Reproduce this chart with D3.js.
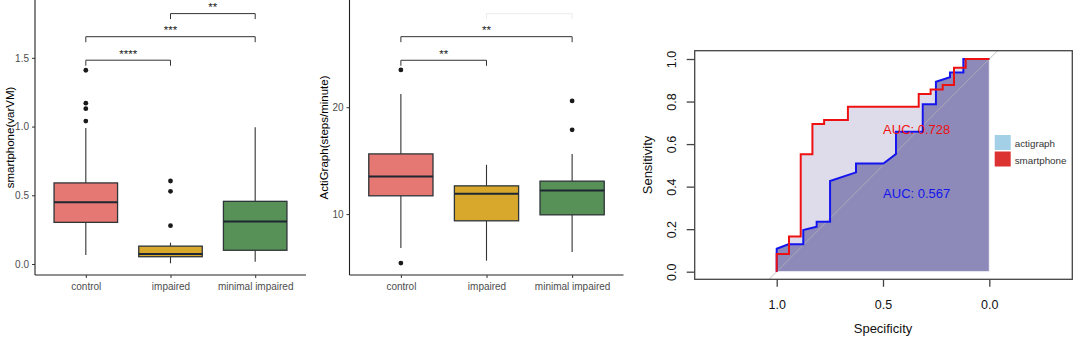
<!DOCTYPE html>
<html>
<head>
<meta charset="utf-8">
<script src="https://cdn.jsdelivr.net/npm/d3@7"></script>
<style>
  html, body { margin: 0; padding: 0; background: #fff; }
  svg { display: block; font-family: "Liberation Sans", Arial, sans-serif; }
</style>
</head>
<body>
<svg id="chart" width="1074" height="337"></svg>
<script>
// ---------------- DATA ----------------
const categories = ["control", "impaired", "minimal impaired"];
const boxColors = ["#e57872", "#d8a82d", "#579157"];

// Panel A: smartphone(varVM)
const smartQ1  = [0.303, 0.053, 0.100];
const smartMed = [0.450, 0.073, 0.310];
const smartQ3  = [0.590, 0.130, 0.456];
const smartLo  = [0.065, 0.005, 0.017];
const smartHi  = [0.990, 0.155, 0.995];
const smartOutliers = [[1.41, 1.17, 1.13, 1.04], [0.604, 0.529, 0.279], []];
const smartTicks = [0.0, 0.5, 1.0, 1.5];
const smartBrackets = [
  { from: 0, to: 1, y: 1.483, label: "****" },
  { from: 0, to: 2, y: 1.654, label: "***" },
  { from: 1, to: 2, y: 1.822, label: "**" }
];

// Panel B: ActiGraph(steps/minute)
const actiQ1  = [11.71, 9.37, 9.93];
const actiMed = [13.51, 11.90, 12.21];
const actiQ3  = [15.63, 12.64, 13.08];
const actiLo  = [6.82, 5.64, 6.45];
const actiHi  = [21.24, 14.61, 15.61];
const actiOutliers = [[23.49, 5.42], [], [20.59, 17.88]];
const actiTicks = [10, 20];
const actiBrackets = [
  { from: 0, to: 1, y: 24.39, label: "**" },
  { from: 0, to: 2, y: 26.60, label: "**" },
  { from: 1, to: 2, y: 28.75, label: "", faint: true }
];

// Panel C: ROC curves (specificity, sensitivity)
const smartRocSpec = [1, 1, 0.942, 0.942, 0.887, 0.887, 0.832, 0.832, 0.777, 0.777, 0.665, 0.665, 0.332, 0.332, 0.276, 0.276, 0.219, 0.219, 0.166, 0.166, 0.111, 0.111, 0];
const smartRocSens = [0, 0.083, 0.083, 0.165, 0.165, 0.552, 0.552, 0.694, 0.694, 0.713, 0.713, 0.776, 0.776, 0.835, 0.835, 0.857, 0.857, 0.878, 0.878, 0.959, 0.959, 1, 1];
const actiRocSpec = [1, 1, 0.945, 0.875, 0.875, 0.812, 0.812, 0.749, 0.749, 0.627, 0.627, 0.498, 0.439, 0.439, 0.313, 0.313, 0.251, 0.251, 0.185, 0.185, 0.122, 0.122, 0];
const actiRocSens = [0, 0.108, 0.129, 0.129, 0.196, 0.212, 0.235, 0.235, 0.426, 0.467, 0.509, 0.509, 0.553, 0.658, 0.658, 0.787, 0.787, 0.893, 0.914, 0.936, 0.936, 1, 1];
const rocXTicks = [1.0, 0.5, 0.0];
const rocYTicks = [0.0, 0.2, 0.4, 0.6, 0.8, 1.0];
const aucLabels = ["AUC: 0.728", "AUC: 0.567"];
const aucY = [0.67, 0.37];
const legendLabels = ["actigraph", "smartphone"];
const legendColors = ["#a3d0e6", "#dc3232"];

// ---------------- DRAW ----------------
const svg = d3.select("#chart");

function boxPanel(opt) {
  const g = svg.append("g");
  const x = d3.scalePoint().domain(categories).range([opt.x0, opt.x1]).padding(0.6);
  const y = d3.scaleLinear().domain(opt.yDomain).range([275, 0]);
  const bw = x.step() * 0.75;

  const yAxis = d3.axisLeft(y).tickValues(opt.ticks).tickFormat(opt.fmt).tickSize(3).tickPadding(3);
  const ya = g.append("g").attr("transform", `translate(${opt.x0},0)`).call(yAxis);
  const xAxis = d3.axisBottom(x).tickSize(3).tickPadding(5);
  const xa = g.append("g").attr("transform", `translate(0,275)`).call(xAxis);
  [ya, xa].forEach(a => {
    a.select(".domain").attr("stroke", "#222").attr("stroke-width", 1.1);
    a.selectAll(".tick line").attr("stroke", "#333").attr("stroke-width", 1);
    a.selectAll(".tick text").attr("fill", "#4d4d4d").attr("font-size", 10)
      .attr("font-family", "Liberation Sans, Arial, sans-serif");
  });
  xa.select(".domain").attr("d", `M${opt.x0},0H${opt.x1}`);
  ya.select(".domain").attr("d", `M0,275V0`);

  g.append("text")
    .attr("transform", `translate(${opt.titleX},${275 / 2}) rotate(-90)`)
    .attr("text-anchor", "middle").attr("dominant-baseline", "central")
    .attr("font-size", 11.5).attr("fill", "#000").text(opt.title);

  categories.forEach((c, i) => {
    const cx = x(c);
    g.append("line").attr("x1", cx).attr("x2", cx).attr("y1", y(opt.hi[i])).attr("y2", y(opt.q3[i]))
      .attr("stroke", "#333").attr("stroke-width", 1.1);
    g.append("line").attr("x1", cx).attr("x2", cx).attr("y1", y(opt.q1[i])).attr("y2", y(opt.lo[i]))
      .attr("stroke", "#333").attr("stroke-width", 1.1);
    g.append("rect").attr("x", cx - bw / 2).attr("width", bw)
      .attr("y", y(opt.q3[i])).attr("height", y(opt.q1[i]) - y(opt.q3[i]))
      .attr("fill", boxColors[i]).attr("stroke", "#2e3438").attr("stroke-width", 1.3);
    g.append("line").attr("x1", cx - bw / 2).attr("x2", cx + bw / 2)
      .attr("y1", y(opt.med[i])).attr("y2", y(opt.med[i]))
      .attr("stroke", "#1d2633").attr("stroke-width", 2);
    opt.out[i].forEach(v => {
      g.append("circle").attr("cx", cx).attr("cy", y(v)).attr("r", 2.4).attr("fill", "#1a1a1a");
    });
  });

  opt.brackets.forEach(b => {
    const xa_ = x(categories[b.from]), xb_ = x(categories[b.to]), yy = y(b.y);
    const col = b.faint ? "#ececec" : "#333";
    g.append("path")
      .attr("d", `M${xa_},${yy + 5.5}V${yy}H${xb_}V${yy + 5.5}`)
      .attr("fill", "none").attr("stroke", col).attr("stroke-width", 1);
    if (b.label) {
      g.append("text").attr("x", (xa_ + xb_) / 2).attr("y", yy - 2.5)
        .attr("text-anchor", "middle").attr("font-size", 11.5).attr("fill", "#222").text(b.label);
    }
  });
}

boxPanel({
  x0: 35, x1: 306, yDomain: [-0.08, 1.921], ticks: smartTicks, fmt: d3.format(".1f"),
  title: "smartphone(varVM)", titleX: 10,
  q1: smartQ1, med: smartMed, q3: smartQ3, lo: smartLo, hi: smartHi, out: smartOutliers,
  brackets: smartBrackets
});
boxPanel({
  x0: 349.5, x1: 623.5, yDomain: [4.3, 30.03], ticks: actiTicks, fmt: d3.format("d"),
  title: "ActiGraph(steps/minute)", titleX: 323.5,
  q1: actiQ1, med: actiMed, q3: actiQ3, lo: actiLo, hi: actiHi, out: actiOutliers,
  brackets: actiBrackets
});

// ROC panel
(function () {
  const g = svg.append("g");
  const box = { l: 694.7, r: 1072.3, t: 50.7, b: 279.3 };
  const x = d3.scaleLinear().domain([1, 0]).range([776.7, 989.3]);
  const y = d3.scaleLinear().domain([0, 1]).range([271.7, 59]);

  g.append("clipPath").attr("id", "rocclip").append("rect")
    .attr("x", box.l).attr("y", box.t).attr("width", box.r - box.l).attr("height", box.b - box.t);
  const pg = g.append("g").attr("clip-path", "url(#rocclip)");

  const ptsOf = (sp, se) => sp.map((s, i) => [x(s), y(se[i])]);
  const smartPts = ptsOf(smartRocSpec, smartRocSens);
  const actiPts = ptsOf(actiRocSpec, actiRocSens);
  const polyOf = pts => pts.concat([[x(0), y(0)], [x(1), y(0)]]);

  pg.append("path").attr("d", d3.line()(polyOf(smartPts)) + "Z")
    .attr("fill", "#dedcea").attr("stroke", "#fff").attr("stroke-width", 1.2);
  pg.append("path").attr("d", d3.line()(polyOf(actiPts)) + "Z")
    .attr("fill", "#8d89b9").attr("stroke", "#f4f4f8").attr("stroke-width", 1);

  pg.append("line").attr("x1", x(1.2)).attr("y1", y(-0.2)).attr("x2", x(-0.2)).attr("y2", y(1.2))
    .attr("stroke", "#b5b5b5").attr("stroke-width", 0.8);

  pg.append("path").attr("d", d3.line()(actiPts)).attr("fill", "none")
    .attr("stroke", "#1414ee").attr("stroke-width", 2);
  pg.append("path").attr("d", d3.line()(smartPts)).attr("fill", "none")
    .attr("stroke", "#ee1111").attr("stroke-width", 2);

  g.append("text").attr("x", 916.7).attr("y", y(aucY[0])).attr("text-anchor", "middle")
    .attr("dominant-baseline", "central").attr("font-size", 13).attr("fill", "#ee1111").text(aucLabels[0]);
  g.append("text").attr("x", 916.7).attr("y", y(aucY[1])).attr("text-anchor", "middle")
    .attr("dominant-baseline", "central").attr("font-size", 13).attr("fill", "#1414ee").text(aucLabels[1]);

  g.append("rect").attr("x", box.l).attr("y", box.t).attr("width", box.r - box.l).attr("height", box.b - box.t)
    .attr("fill", "none").attr("stroke", "#444").attr("stroke-width", 1.3);

  const xAxis = d3.axisBottom(x).tickValues(rocXTicks).tickFormat(d3.format(".1f")).tickSize(7.5).tickPadding(13);
  const xa = g.append("g").attr("transform", `translate(0,${box.b})`).call(xAxis);
  xa.select(".domain").remove();
  const yAxis = d3.axisLeft(y).tickValues(rocYTicks).tickFormat(d3.format(".1f")).tickSize(8).tickPadding(6);
  const ya = g.append("g").attr("transform", `translate(${box.l},0)`).call(yAxis);
  ya.select(".domain").remove();
  [xa, ya].forEach(a => {
    a.selectAll(".tick line").attr("stroke", "#444").attr("stroke-width", 1.3);
    a.selectAll(".tick text").attr("fill", "#111").attr("font-size", 12.5)
      .attr("font-family", "Liberation Sans, Arial, sans-serif");
  });
  ya.selectAll(".tick").each(function () {
    d3.select(this).select("text")
      .attr("x", null).attr("dy", null).attr("text-anchor", "middle").attr("dominant-baseline", "central")
      .attr("transform", `translate(-23,0) rotate(-90)`);
  });

  g.append("text").attr("transform", `translate(647.7,165) rotate(-90)`).attr("text-anchor", "middle")
    .attr("dominant-baseline", "central").attr("font-size", 13).attr("fill", "#111").text("Sensitivity");
  g.append("text").attr("x", 883).attr("y", 328.3).attr("text-anchor", "middle")
    .attr("dominant-baseline", "central").attr("font-size", 13).attr("fill", "#111").text("Specificity");

  legendLabels.forEach((l, i) => {
    const yy = 135 + i * 16.5;
    g.append("rect").attr("x", 994.7).attr("y", yy).attr("width", 16).attr("height", 15)
      .attr("fill", legendColors[i]);
    g.append("text").attr("x", 1014.7).attr("y", yy + 8.5).attr("dominant-baseline", "central")
      .attr("font-size", 9.8).attr("fill", "#333").text(l);
  });
})();
</script>
</body>
</html>
